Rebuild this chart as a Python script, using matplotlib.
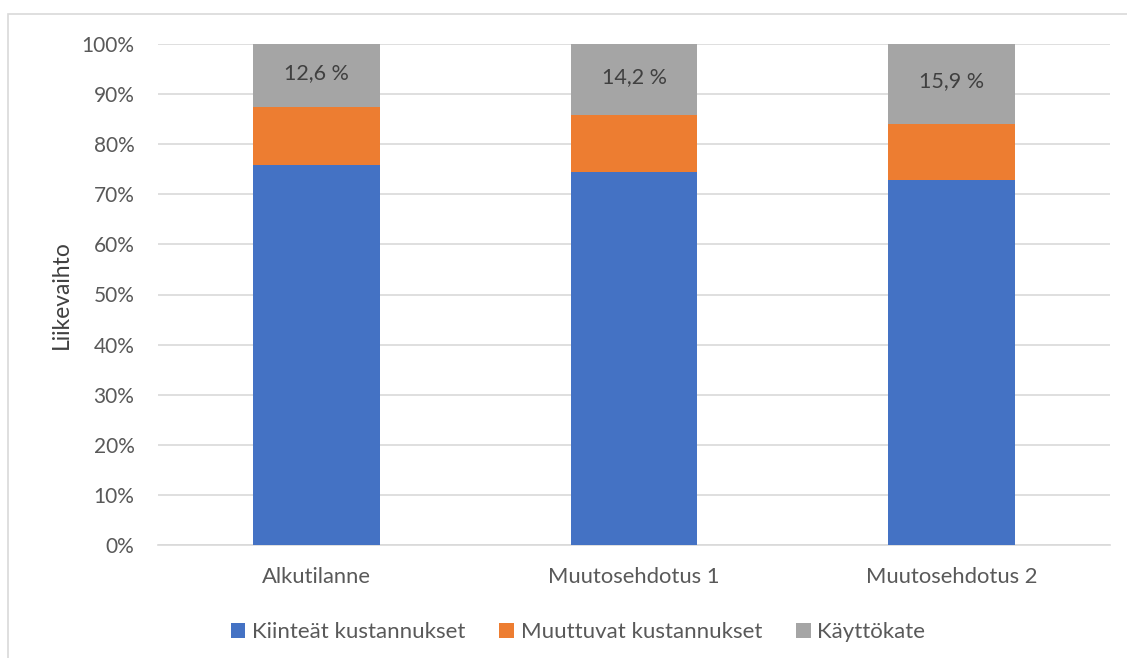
import matplotlib
matplotlib.use("Agg")
import matplotlib.pyplot as plt
from matplotlib.patches import Rectangle
from matplotlib.ticker import FuncFormatter

categories = ["Alkutilanne", "Muutosehdotus 1", "Muutosehdotus 2"]
kiinteat = [75.9, 74.5, 72.9]
muuttuvat = [11.5, 11.3, 11.2]
kayttokate = [12.6, 14.2, 15.9]
series_names = ["Kiinteät kustannukset", "Muuttuvat kustannukset", "Käyttökate"]
colors = ["#4472C4", "#ED7D31", "#A5A5A5"]
y_ticks = [0, 10, 20, 30, 40, 50, 60, 70, 80, 90, 100]

plt.rcParams['font.family'] = ['Lato', 'DejaVu Sans']

W, H = 1127, 658
fig = plt.figure(figsize=(W / 100, H / 100), dpi=100)
ax = fig.add_axes([158 / W, (H - 545) / H, (1110 - 158) / W, (545 - 44) / H])

x = list(range(len(categories)))
bw = 0.4
b1 = ax.bar(x, kiinteat, bw, color=colors[0], label=series_names[0], zorder=3)
bottom2 = kiinteat
b2 = ax.bar(x, muuttuvat, bw, bottom=bottom2, color=colors[1], label=series_names[1], zorder=3)
bottom3 = [a + b for a, b in zip(kiinteat, muuttuvat)]
b3 = ax.bar(x, kayttokate, bw, bottom=bottom3, color=colors[2], label=series_names[2], zorder=3)

for xi, b, v in zip(x, bottom3, kayttokate):
    ax.text(xi, b + v / 2 + 0.5, f"{v:.1f} %".replace(".", ","), ha="center", va="center",
            fontsize=15.5, color="#404040", zorder=4)

ax.set_xlim(-0.5, 2.5)
ax.set_ylim(0, 100)
ax.set_yticks(y_ticks)
ax.yaxis.set_major_formatter(FuncFormatter(lambda v, p: f"{v:.0f}%"))
ax.set_xticks(x)
ax.set_xticklabels(categories)
ax.tick_params(axis="y", length=0, labelsize=15, colors="#595959", pad=17)
ax.tick_params(axis="x", length=0, labelsize=15.8, colors="#595959", pad=16)
ax.grid(axis="y", color="#D9D9D9", linewidth=1.2, zorder=0)
for s in ["top", "right", "left"]:
    ax.spines[s].set_visible(False)
ax.spines["bottom"].set_color("#D9D9D9")
ax.spines["bottom"].set_linewidth(1.2)
ax.spines["bottom"].set_zorder(1)

ax.set_ylabel("Liikevaihto", fontsize=16.5, color="#404040")
ax.yaxis.set_label_coords(-(158 - 72) / (1110 - 158), 0.5)

fig.legend(handles=[b1, b2, b3], labels=series_names, loc="center",
           bbox_to_anchor=(578 / W, (H - 632) / H), ncol=3, frameon=False,
           fontsize=16, handlelength=0.65, handleheight=0.65, handletextpad=0.3,
           columnspacing=1.55, labelcolor="#595959")

# outer chart frame
fig.patches.append(Rectangle((8 / W, -0.1), 1.2, (H - 14) / H + 0.1, transform=fig.transFigure,
                             fill=False, edgecolor="#D9D9D9", linewidth=1.2))

fig.savefig("out.png", dpi=100)
